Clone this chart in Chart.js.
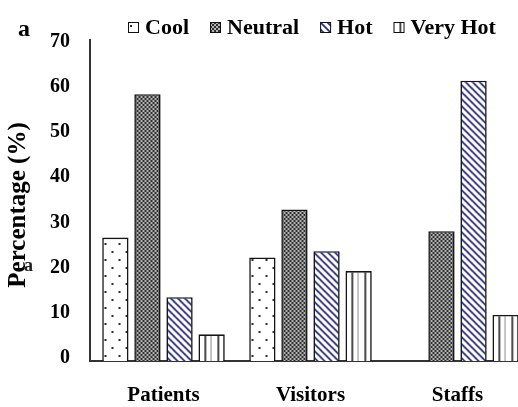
<!DOCTYPE html>
<html>
<head>
<meta charset="utf-8">
<script src="https://cdn.jsdelivr.net/npm/chart.js@4/dist/chart.umd.min.js"></script>
<style>
  html, body { margin: 0; padding: 0; background: #fff; overflow: hidden; }
  #wrap { position: relative; width: 540px; height: 407px; }
</style>
</head>
<body>
<div id="wrap"><canvas id="c" width="540" height="407"></canvas></div>
<script>
// Thermal sensation votes by group (%)
const categories = ['Patients', 'Visitors', 'Staffs'];
const seriesNames = ['Cool', 'Neutral', 'Hot', 'Very Hot'];
const cool    = [27.3, 22.9, 0];
const neutral = [59.0, 33.5, 28.7];
const hot     = [14.1, 24.3, 62.0];
const veryHot = [5.9, 19.9, 10.2];
const yTicks  = [0, 10, 20, 30, 40, 50, 60, 70];
const yTitle  = 'Percentage (%)';

const SERIF = '"Liberation Serif", "Times New Roman", serif';
const CAT_PCT = 0.873;
const BAR_PCT = 0.82;

// pattern tiles
function tile(w, h, draw) {
  const c = document.createElement('canvas');
  c.width = w; c.height = h;
  const g = c.getContext('2d');
  g.fillStyle = '#fff'; g.fillRect(0, 0, w, h);
  draw(g, w, h);
  return c;
}
const tiles = {
  Cool: tile(14, 16, g => {
    g.fillStyle = '#2a2a2a';
    g.fillRect(2, 3, 2, 2);
    g.fillRect(9, 11, 2, 2);
  }),
  Neutral: tile(4, 4, g => {
    g.fillStyle = '#b5b5b5'; g.fillRect(0, 0, 4, 4);
    g.fillStyle = '#2e2e2e';
    g.fillRect(0, 0, 2, 2); g.fillRect(2, 2, 2, 2);
  }),
  Hot: tile(7, 7, g => {
    g.strokeStyle = '#1f1f7a'; g.lineWidth = 1.6;
    g.beginPath();
    g.moveTo(-1, -1); g.lineTo(8, 8);
    g.moveTo(-8, -1); g.lineTo(1, 8);
    g.moveTo(6, -1); g.lineTo(15, 8);
    g.stroke();
  }),
  'Very Hot': tile(13, 4, g => {
    g.fillStyle = '#111';
    g.fillRect(6, 0, 1.5, 4);
    g.fillRect(12.5, 0, 1.5, 4);
  })
};

function patternFor(name, ctx2d, dx, dy) {
  const p = ctx2d.createPattern(tiles[name], 'repeat');
  if (p.setTransform && (dx || dy)) p.setTransform(new DOMMatrix().translate(dx || 0, dy || 0));
  return p;
}

// bar left edge, used to anchor each bar's fill pattern
function barLeft(chart, dsIndex, index) {
  const xs = chart.scales.x;
  const cw = xs.width / categories.length;
  const pitch = cw * CAT_PCT / seriesNames.length;
  const center = xs.getPixelForValue(index);
  return center - cw * CAT_PCT / 2 + dsIndex * pitch + pitch * (1 - BAR_PCT) / 2;
}

function makeDataset(name, values, dsIndex) {
  return {
    label: name,
    data: values,
    backgroundColor: ctx => {
      const chart = ctx.chart;
      if (!chart.scales || !chart.scales.x || ctx.type !== 'data') return patternFor(name, chart.ctx, 0, 0);
      const left = barLeft(chart, dsIndex, ctx.dataIndex);
      return patternFor(name, chart.ctx, Math.round(left) + 0.5, 0);
    },
    borderColor: '#151515',
    borderWidth: 1.6,
    borderSkipped: 'start'
  };
}

// legend across the top, panel letter and the vertical axis title
const decorations = {
  id: 'decorations',
  afterDraw(chart) {
    const g = chart.ctx;
    g.save();
    g.font = 'bold 22px ' + SERIF;
    g.textBaseline = 'alphabetic';
    let x = 128;
    const baseY = 34;
    seriesNames.forEach(name => {
      g.fillStyle = patternFor(name, g, x, 22);
      g.fillRect(x, 22, 11, 11);
      g.strokeStyle = '#111'; g.lineWidth = 1;
      g.strokeRect(x + 0.5, 22.5, 10, 10);
      g.fillStyle = '#000';
      g.fillText(name, x + 17, baseY);
      x += 17 + g.measureText(name).width + 21;
    });

    g.font = 'bold 24px ' + SERIF;
    g.fillText('a', 18, 36);

    // axis title
    g.save();
    g.translate(19, 205);
    g.rotate(-Math.PI / 2);
    g.font = 'bold 25px ' + SERIF;
    g.textAlign = 'center';
    g.textBaseline = 'middle';
    g.fillStyle = '#000';
    g.fillText(yTitle, 0, 0);
    g.restore();

    g.font = 'bold 18px ' + SERIF;
    g.fillStyle = '#222';
    g.fillText('a', 24, 271);
    g.restore();
  }
};

const chart = new Chart(document.getElementById('c'), {
  type: 'bar',
  data: {
    labels: categories,
    datasets: [
      makeDataset('Cool', cool, 0),
      makeDataset('Neutral', neutral, 1),
      makeDataset('Hot', hot, 2),
      makeDataset('Very Hot', veryHot, 3)
    ]
  },
  options: {
    responsive: false,
    animation: false,
    events: [],
    layout: { padding: { top: 40, right: 9, left: 0, bottom: 0 } },
    datasets: { bar: { categoryPercentage: CAT_PCT, barPercentage: BAR_PCT } },
    plugins: { legend: { display: false }, tooltip: { enabled: false } },
    scales: {
      x: {
        grid: { display: false, drawTicks: false },
        border: { display: true, color: '#333', width: 2 },
        ticks: { color: '#000', padding: 22, font: { family: SERIF, size: 21, weight: 'bold' } },
        afterFit(s) { s.height = 46; }
      },
      y: {
        min: 0,
        max: 71,
        afterBuildTicks(s) { s.ticks = yTicks.map(v => ({ value: v })); },
        grid: { display: false, drawTicks: false },
        border: { display: true, color: '#333', width: 2 },
        ticks: {
          color: '#000', padding: 20, labelOffset: -3,
          font: { family: SERIF, size: 20, weight: 'bold' }
        },
        afterFit(s) { s.width = 90; }
      }
    }
  },
  plugins: [decorations]
});
</script>
</body>
</html>
